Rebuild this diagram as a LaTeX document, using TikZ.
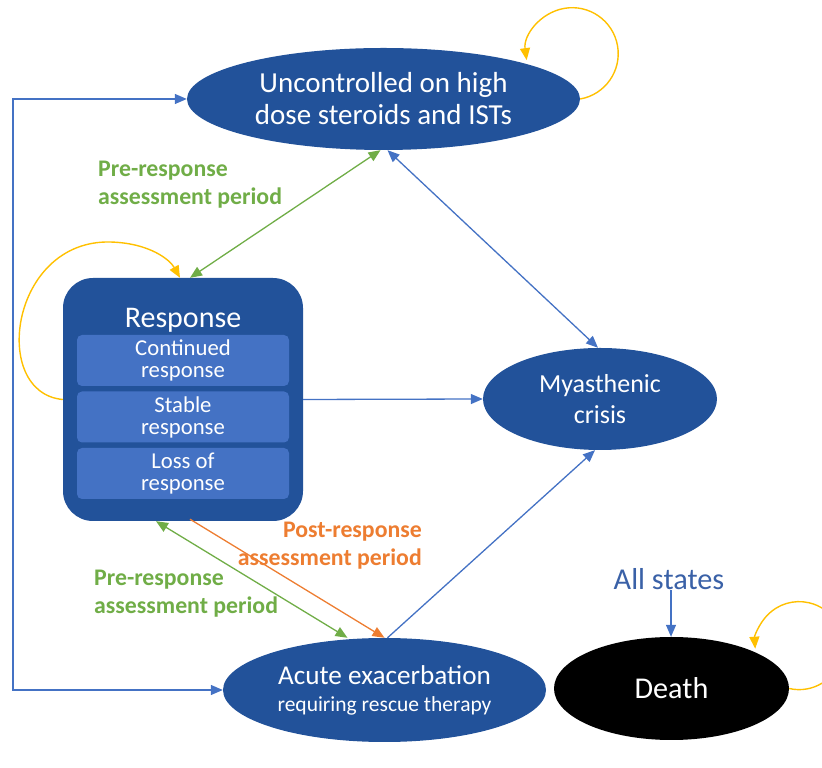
\documentclass[tikz,border=0pt]{standalone}
\usepackage{fontspec}
\setmainfont{Carlito}
\usepackage{xcolor}
\usetikzlibrary{positioning,arrows.meta,calc,shapes.geometric}
\definecolor{statefill}{RGB}{34,82,154}
\definecolor{subfill}{RGB}{68,114,196}
\definecolor{linkblue}{RGB}{68,114,196}
\definecolor{periodgreen}{RGB}{112,173,71}
\definecolor{periodorange}{RGB}{237,125,49}
\definecolor{loopyellow}{RGB}{255,192,0}

\begin{document}
\begin{tikzpicture}[x=1pt,y=1pt,
    >={Triangle[length=12pt,width=10pt]},
    state/.style={ellipse,fill=statefill,text=white,inner sep=0pt,align=center},
    subbox/.style={rounded corners=5pt,fill=subfill,text=white,inner sep=0pt,
      minimum width=212pt,minimum height=51pt,align=center,
      font=\fontsize{22.7}{22}\selectfont},
    link/.style={draw=linkblue,line width=1.3pt},
    prelink/.style={draw=periodgreen,line width=1.3pt},
    postlink/.style={draw=periodorange,line width=1.3pt},
    selfloop/.style={draw=loopyellow,line width=1.4pt},
    period/.style={inner sep=0pt,font=\bfseries\fontsize{23.8}{28}\selectfont}]
  \useasboundingbox (0,0) rectangle (822,768);

  % states
  \node[state,minimum width=393pt,minimum height=102pt,font=\fontsize{29}{32}\selectfont]
    (unc) at (383.5,669) {Uncontrolled on high\\dose steroids and ISTs};
  \node[state,minimum width=234pt,minimum height=102pt,font=\fontsize{26}{31}\selectfont]
    (myas) at (600,369) {Myasthenic\\crisis};
  \node[state,minimum width=323pt,minimum height=104pt,font=\fontsize{27.2}{27}\selectfont]
    (acute) at (384.5,78) {Acute exacerbation\\{\fontsize{21.5}{24}\selectfont requiring rescue therapy}};
  \node[state,fill=black,minimum width=235pt,minimum height=103pt,font=\fontsize{30.2}{34}\selectfont]
    (death) at (671.5,79.5) {Death};

  % response box with its sub-states
  \node[rounded corners=30pt,fill=statefill,minimum width=240pt,minimum height=243pt]
    (resp) at (183,368.5) {};
  \node[anchor=base,text=white,inner sep=0pt,font=\fontsize{30}{34}\selectfont]
    (resptitle) at (183,440) {Response};
  \foreach \i/\name/\txt in {0/cont/{Continued\\response},
      1/stab/{Stable\\response},
      2/loss/{Loss of\\response}}{
    \node[subbox] (\name) at (183,407.5-\i*56.5) {\txt};
  }

  \node[anchor=base,inner sep=0pt,text=linkblue!85!black,font=\fontsize{30.3}{34}\selectfont]
    (allst) at (669,178) {All states};

  % period labels
  \node[period,text=periodgreen,anchor=west,align=left] (preup) at (98,583)
    {Pre-response\\assessment period};
  \node[period,text=periodgreen,anchor=west,align=left] (predown) at (94,174.5)
    {Pre-response\\assessment period};
  \node[period,text=periodorange,anchor=east,align=right] (post) at (422,222.5)
    {Post-response\\assessment period};

  % transitions
  \coordinate (left) at (13,400);
  \draw[link,<->] (unc.west) -| (left) |- (acute.west);
  \draw[prelink,<->] ([xshift=7pt]resp.north) -- ([xshift=-3pt]unc.south);
  \draw[link,<->] ([xshift=4pt]unc.south) -- ([xshift=-2pt]myas.north);
  \draw[link,->] (resp.east) -- (myas.west);
  \draw[link,->] ([xshift=3pt]acute.north) -- ([xshift=-5pt]myas.south);
  \draw[prelink,<->] ([xshift=-27pt]resp.south) -- ([xshift=-37pt]acute.north);
  \draw[postlink,->] ([xshift=7pt,yshift=2pt]resp.south) -- (acute.north);
  \draw[link,->] ([xshift=2pt]allst.base) -- ([xshift=-0.5pt]death.north);

  % self transitions
  \draw[selfloop,->] (unc.east) arc[start angle=-80,end angle=188,radius=46];
  \draw[selfloop,->] (resp.west) .. controls (-10,375) and (10,528) .. (110,526)
    .. controls (150,525) and (170,508) .. ([xshift=-3pt]resp.north);
  \draw[selfloop,->] (death.east) arc[start angle=-103,end angle=184,radius=44];
\end{tikzpicture}
\end{document}
